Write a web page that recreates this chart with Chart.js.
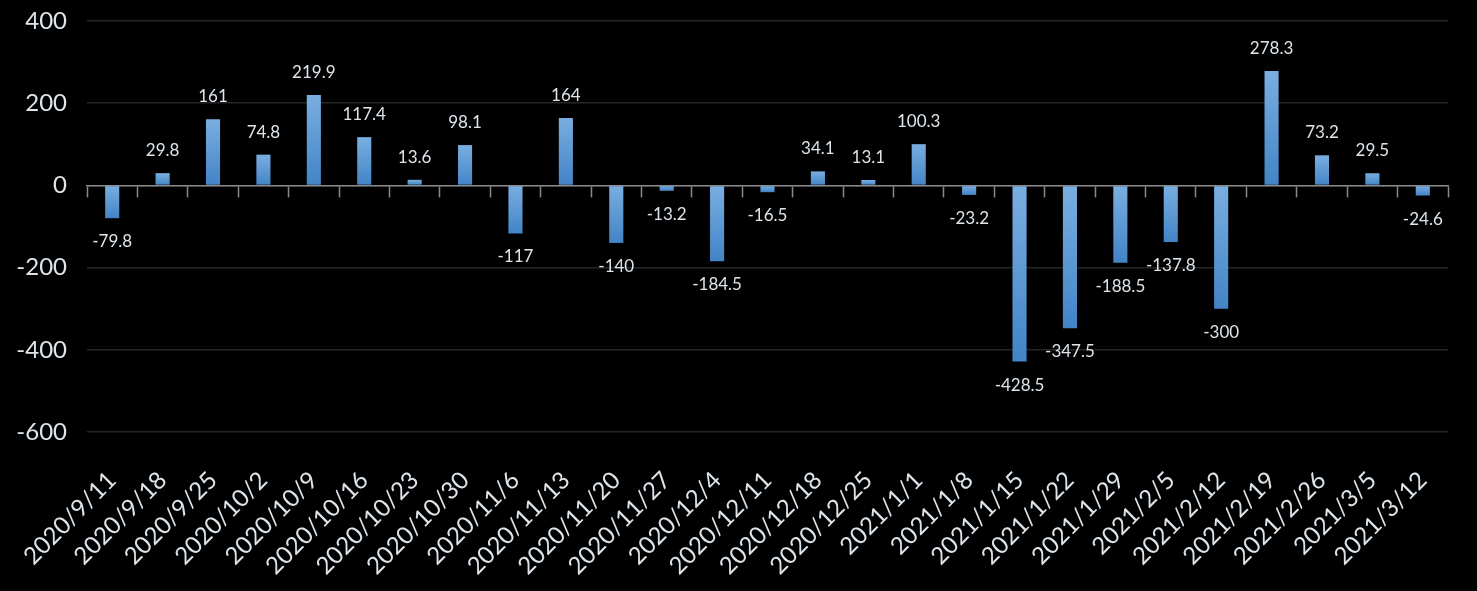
<!DOCTYPE html>
<html>
<head>
<meta charset="utf-8">
<script src="https://cdn.jsdelivr.net/npm/chart.js@4.4.1/dist/chart.umd.min.js"></script>
<style>
  html, body { margin: 0; padding: 0; background: #000; }
  #wrap { width: 1477px; height: 591px; }
</style>
</head>
<body>
<div id="wrap"><canvas id="weeklyChart"></canvas></div>
<script>
const weeks = [
  '2020/9/11', '2020/9/18', '2020/9/25', '2020/10/2', '2020/10/9', '2020/10/16',
  '2020/10/23', '2020/10/30', '2020/11/6', '2020/11/13', '2020/11/20', '2020/11/27',
  '2020/12/4', '2020/12/11', '2020/12/18', '2020/12/25', '2021/1/1', '2021/1/8',
  '2021/1/15', '2021/1/22', '2021/1/29', '2021/2/5', '2021/2/12', '2021/2/19',
  '2021/2/26', '2021/3/5', '2021/3/12'
];
const changes = [
  -79.8, 29.8, 161, 74.8, 219.9, 117.4,
  13.6, 98.1, -117, 164, -140, -13.2,
  -184.5, -16.5, 34.1, 13.1, 100.3, -23.2,
  -428.5, -347.5, -188.5, -137.8, -300, 278.3,
  73.2, 29.5, -24.6
];
const yMin = -600;
const yMax = 400;
const yStep = 200;

const textColor = '#dde4ea';
const fontFamily = 'Lato, "Open Sans", sans-serif';

// vertical gradient per bar, lighter at the top
function barFill(ctx) {
  const chart = ctx.chart;
  const yScale = chart.scales.y;
  if (!yScale || ctx.raw === undefined) return '#5b9bd5';
  const yv = yScale.getPixelForValue(ctx.raw);
  const y0 = yScale.getPixelForValue(0);
  const top = Math.min(yv, y0);
  const bottom = Math.max(yv, y0);
  if (!isFinite(top) || bottom - top < 1) return '#5b9bd5';
  const g = chart.ctx.createLinearGradient(0, top, 0, bottom);
  g.addColorStop(0, '#7aaee0');
  g.addColorStop(1, '#4284c7');
  return g;
}

// value labels above positive bars, below negative ones
const valueLabels = {
  id: 'valueLabels',
  afterDatasetsDraw(chart) {
    const ctx = chart.ctx;
    const meta = chart.getDatasetMeta(0);
    ctx.save();
    ctx.font = '17px ' + fontFamily;
    ctx.fillStyle = textColor;
    ctx.textAlign = 'center';
    ctx.textBaseline = 'alphabetic';
    meta.data.forEach((bar, i) => {
      const v = changes[i];
      const y = v >= 0 ? bar.y - 17 : bar.y + 29;
      ctx.fillText(String(v), bar.x, y);
    });
    ctx.restore();
  }
};

new Chart(document.getElementById('weeklyChart'), {
  type: 'bar',
  data: {
    labels: weeks,
    datasets: [{
      data: changes,
      backgroundColor: barFill,
      borderWidth: 0,
      barPercentage: 0.28,
      categoryPercentage: 1.0
    }]
  },
  options: {
    responsive: true,
    maintainAspectRatio: false,
    animation: false,
    layout: { padding: { top: 21, right: 29, left: 0, bottom: 0 } },
    plugins: {
      legend: { display: false },
      tooltip: { enabled: false }
    },
    scales: {
      x: {
        position: 'bottom',
        offset: true,
        grid: { display: false },
        border: { display: false },
        ticks: {
          color: textColor,
          font: { family: fontFamily, size: 24 },
          minRotation: 45,
          maxRotation: 45,
          autoSkip: false,
          padding: 26
        },
        afterFit(scale) { scale.height = 159; }
      },
      zeroAxis: {
        axis: 'x',
        type: 'category',
        labels: weeks,
        position: { y: 0 },
        offset: true,
        grid: {
          offset: true,
          drawOnChartArea: false,
          drawTicks: true,
          tickLength: 11,
          tickWidth: 1.5,
          color: '#898989'
        },
        border: { display: true, color: '#898989', width: 1.5 },
        ticks: { display: false }
      },
      y: {
        min: yMin,
        max: yMax,
        ticks: {
          stepSize: yStep,
          color: textColor,
          font: { family: fontFamily, size: 24 },
          padding: 20
        },
        grid: { color: '#262626', lineWidth: 1.5, drawTicks: false },
        border: { display: false },
        afterFit(scale) {
          scale.width = 87;
          scale.paddingTop = 0;
          scale.paddingBottom = 0;
        }
      }
    }
  },
  plugins: [valueLabels]
});
</script>
</body>
</html>
